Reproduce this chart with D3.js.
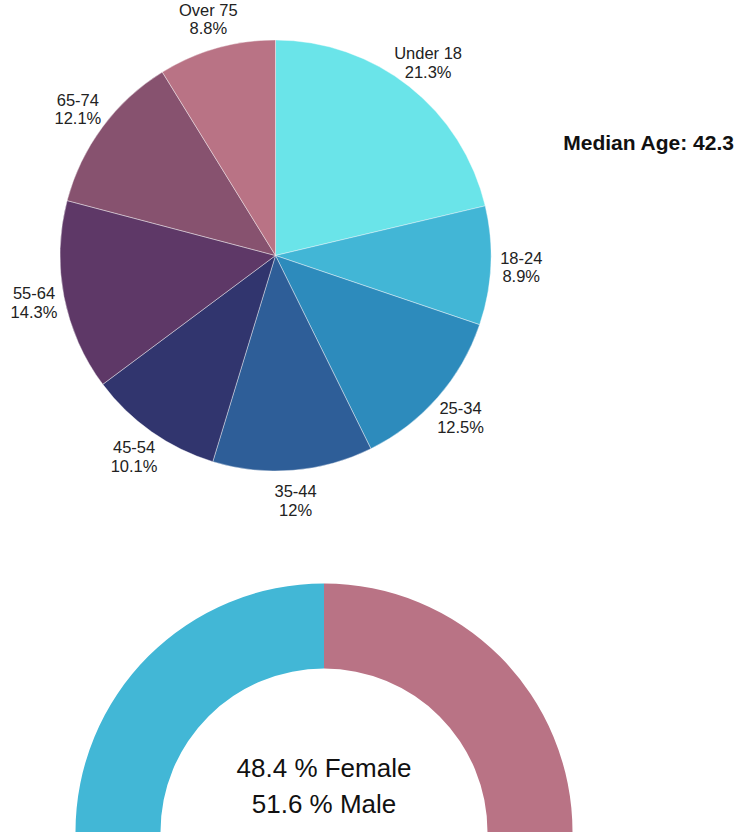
<!DOCTYPE html>
<html>
<head>
<meta charset="utf-8">
<script src="https://cdn.jsdelivr.net/npm/d3@7"></script>
<style>
  body { margin: 0; background: #fff; }
  svg { display: block; }
</style>
</head>
<body>
<div class="vis-holder"></div>
<script>
const width = 738;
const height = 837;

// age breakdown
const ageGroups = ["Under 18", "18-24", "25-34", "35-44", "45-54", "55-64", "65-74", "Over 75"];
const agePercents = [21.3, 8.9, 12.5, 12, 10.1, 14.3, 12.1, 8.8];
const ageColors = ["#6ae4e9", "#42b6d6", "#2d8bbc", "#2e5e98", "#31356e", "#5e3867", "#87526f", "#b97385"];
const medianAge = 42.3;

// gender split
const genders = ["Female", "Male"];
const genderPercents = [48.4, 51.6];
const genderColors = ["#42b7d6", "#b97385"];

const svg = d3.select(".vis-holder").append("svg")
    .attr("width", width)
    .attr("height", height);

const ageData = ageGroups.map((g, i) => ({ group: g, value: agePercents[i] }));

const pie = d3.pie()
    .sort(null)
    .value(d => d.value);

const radius = 215.5;
const arc = d3.arc().innerRadius(0).outerRadius(radius);
const labelArc = d3.arc().innerRadius(246).outerRadius(246);

const pieG = svg.append("g")
    .attr("transform", "translate(275.5,255.5)");

const arcs = pie(ageData);

pieG.selectAll("path")
    .data(arcs)
    .enter().append("path")
    .attr("d", arc)
    .attr("fill", (d, i) => ageColors[i])
    .attr("stroke", "white")
    .attr("stroke-width", 0.4);

const labels = pieG.selectAll("text")
    .data(arcs)
    .enter().append("text")
    .attr("transform", d => "translate(" + labelArc.centroid(d) + ")")
    .attr("text-anchor", "middle")
    .style("font-family", "'Liberation Sans', Arial, sans-serif")
    .style("font-size", "16.5px")
    .attr("fill", "#222");

labels.append("tspan")
    .attr("x", 0)
    .attr("dy", "-0.2em")
    .text(d => d.data.group);

labels.append("tspan")
    .attr("x", 0)
    .attr("dy", "1.12em")
    .text(d => d.data.value + "%");

svg.append("text")
    .attr("x", 734)
    .attr("y", 150)
    .attr("text-anchor", "end")
    .style("font-family", "'Liberation Sans', Arial, sans-serif")
    .style("font-weight", "bold")
    .style("font-size", "21px")
    .attr("fill", "#111")
    .text("Median Age: " + medianAge);

// half donut for gender
const genderData = genders.map((g, i) => ({ gender: g, value: genderPercents[i] }));

const halfPie = d3.pie()
    .sort(null)
    .value(() => 1)
    .startAngle(-Math.PI / 2)
    .endAngle(Math.PI / 2);

const halfArc = d3.arc().innerRadius(163.5).outerRadius(248.5);

const gaugeG = svg.append("g")
    .attr("transform", "translate(324,832)");

gaugeG.selectAll("path")
    .data(halfPie(genderData))
    .enter().append("path")
    .attr("d", halfArc)
    .attr("fill", (d, i) => genderColors[i]);

gaugeG.selectAll("text")
    .data(genderData)
    .enter().append("text")
    .attr("x", 0)
    .attr("y", (d, i) => -55 + i * 36)
    .attr("text-anchor", "middle")
    .style("font-family", "'Liberation Sans', Arial, sans-serif")
    .style("font-size", "26px")
    .attr("fill", "#111")
    .text(d => d.value + " % " + d.gender);
</script>
</body>
</html>
